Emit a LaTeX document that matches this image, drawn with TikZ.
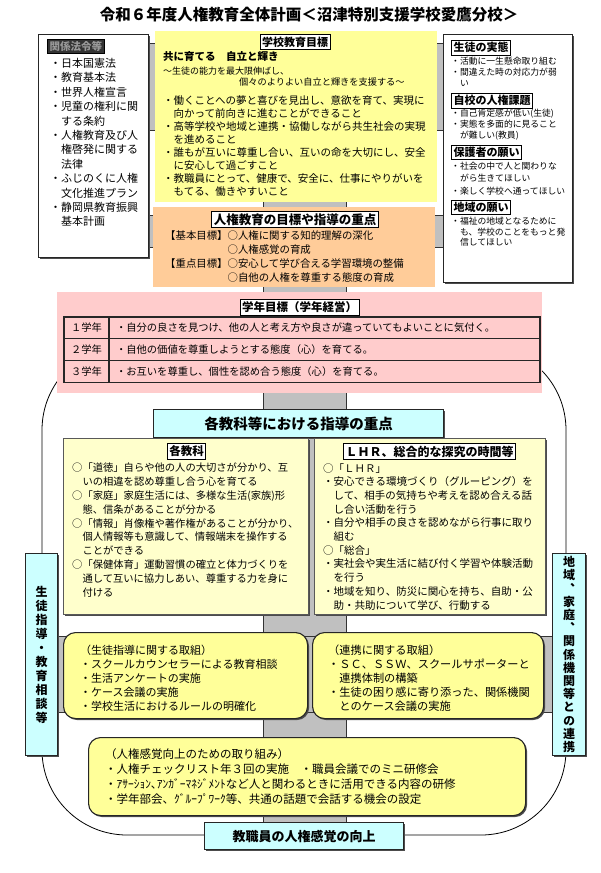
\documentclass[tikz,border=0pt]{standalone}
\usepackage{fontspec}
\setmainfont{Noto Sans CJK JP}
\newfontfamily\vjp[RawFeature=+vert]{Noto Sans CJK JP}
\usetikzlibrary{positioning,shadows}

\definecolor{goalyellow}{HTML}{FFFF99}
\definecolor{paleyellow}{HTML}{FFFFCC}
\definecolor{focusorange}{HTML}{FFCC99}
\definecolor{gradepink}{HTML}{FFCCCC}
\definecolor{headcyan}{HTML}{CCFFFF}
\definecolor{bandgray}{HTML}{C0C0C0}

\newcommand{\fs}[2]{\fontsize{#1}{#2}\selectfont}

\begin{document}
\begin{tikzpicture}[
x=1pt, y=-1pt,
every node/.style={inner sep=0pt},
panel/.style={
draw=black!85,
line width=1.1pt,
fill=white,
anchor=north west,
drop shadow={shadow xshift=1.5pt, shadow yshift=-1.5pt, fill=black!70, opacity=1}
},
flat/.style={anchor=north west},
tag/.style={draw=black, line width=1pt, fill=white, inner sep=2pt, font=\bfseries\fs{11}{13}},
body/.style={anchor=north west, align=left},
rbox/.style={panel, rounded corners=12pt, fill=goalyellow},
cyanbox/.style={panel, fill=headcyan},
colbox/.style={panel, draw=black!65, fill=paleyellow},
cell/.style={draw=black!85, line width=1.2pt, outer sep=0pt, minimum height=21.7pt, anchor=north west, font=\fs{10.3}{12}},
band/.style={fill=bandgray, draw=black!80, line width=0.8pt}
]
\useasboundingbox (0,0) rectangle (600,873);

% Outer ring
\draw[line width=0.8pt, rounded corners=85pt] (42,345) rectangle (566,835);

% Gray bands
\draw[band] (148,43) rectangle (443,130);
\draw[band] (148,215) rectangle (443,247);
\draw[band] (263,130) rectangle (346,822);
\draw[band] (57,636) rectangle (552,712);

% Title
\node[font=\bfseries\fs{15.5}{17}] (title) at (309,15) {令和６年度人権教育全体計画＜沼津特別支援学校愛鷹分校＞};

% Laws
\node[panel, minimum width=110pt, minimum height=223pt] (laws) at (38,34) {};
\node[tag, anchor=north west, fill=black!80, text=black!40, font=\bfseries\fs{10.5}{12}] (lawstag) at (47,39) {関係法令等};
\node[body, font=\fs{11}{14.4}] (lawslist) at (50,58)
{・日本国憲法\\・教育基本法\\・世界人権宣言\\・児童の権利に関\\　する条約\\・人権教育及び人\\　権啓発に関する\\　法律\\・ふじのくに人権\\　文化推進プラン\\・静岡県教育振興\\　基本計画};

% School goal
\node[flat, fill=goalyellow, minimum width=282pt, minimum height=171pt] (goal) at (155,31) {};
\node[tag] (goaltag) at (295,42) {学校教育目標};
\node[body, font=\bfseries\fs{10.5}{12}] (goalmotto) at (163,51) {共に育てる　自立と輝き};
\node[body, font=\fs{9}{11}] (goalsub) at (163,67) {～生徒の能力を最大限伸ばし、};
\node[anchor=west, font=\fs{9.2}{11}] (goalsubb) at (239,82) {個々のよりよい自立と輝きを支援する～};
\node[body, font=\fs{10.5}{13.1}] (goallist) at (163,95)
{・働くことへの夢と喜びを見出し、意欲を育て、実現に\\　向かって前向きに進むことができること\\・高等学校や地域と連携・協働しながら共生社会の実現\\　を進めること\\・誰もが互いに尊重し合い、互いの命を大切にし、安全\\　に安心して過ごすこと\\・教職員にとって、健康で、安全に、仕事にやりがいを\\　もてる、働きやすいこと};

% Needs
\node[panel, minimum width=129pt, minimum height=248pt] (needs) at (443,34) {};
\node[tag, anchor=north west] (needstaga) at (451,40) {生徒の実態};
\node[body, font=\fs{8.8}{10.7}] (needsa) at (451,57) {・活動に一生懸命取り組む\\・間違えた時の対応力が弱\\　い};
\node[tag, anchor=north west] (needstagb) at (451,93) {自校の人権課題};
\node[body, font=\fs{8.8}{10.7}] (needsb) at (451,109) {・自己肯定感が低い(生徒)\\・実態を多面的に見ること\\　が難しい(教員)};
\node[tag, anchor=north west] (needstagc) at (451,145) {保護者の願い};
\node[body, font=\fs{8.8}{12.3}] (needsc) at (451,162) {・社会の中で人と関わりな\\　がら生きてほしい\\・楽しく学校へ通ってほしい};
\node[tag, anchor=north west] (needstagd) at (451,200) {地域の願い};
\node[body, font=\fs{8.8}{10.7}] (needsd) at (451,217) {・福祉の地域となるために\\　も、学校のことをもっと発\\　信してほしい};

% Human rights focus
\node[flat, fill=focusorange, minimum width=282pt, minimum height=80pt] (focus) at (153,207) {};
\node[tag, font=\bfseries\fs{12.5}{14}] (focustag) at (295,219.5) {人権教育の目標や指導の重点};
\node[body, font=\fs{10.4}{14.3}] (focuslist) at (165,230)
{【基本目標】○人権に関する知的理解の深化\\　　　　　　○人権感覚の育成\\【重点目標】○安心して学び合える学習環境の整備\\　　　　　　○自他の人権を尊重する態度の育成};

% Grade goals
\node[flat, fill=gradepink, minimum width=485pt, minimum height=101pt] (grade) at (57,292) {};
\node[tag, font=\bfseries\fs{11.5}{13}] (gradetag) at (299.5,307.5) {学年目標（学年経営）};
\node[cell, minimum width=45pt] (yeara) at (64,317) {１学年};
\node[cell, minimum width=431pt, text width=417pt, inner xsep=7pt, align=left, right=0pt of yeara] (aima)
{・自分の良さを見つけ、他の人と考え方や良さが違っていてもよいことに気付く。};
\node[cell, minimum width=45pt, below=0pt of yeara] (yearb) {２学年};
\node[cell, minimum width=431pt, text width=417pt, inner xsep=7pt, align=left, right=0pt of yearb] (aimb)
{・自他の価値を尊重しようとする態度（心）を育てる。};
\node[cell, minimum width=45pt, below=0pt of yearb] (yearc) {３学年};
\node[cell, minimum width=431pt, text width=417pt, inner xsep=7pt, align=left, right=0pt of yearc] (aimc)
{・お互いを尊重し、個性を認め合う態度（心）を育てる。};

% Subject header
\node[cyanbox, minimum width=290pt, minimum height=28pt, font=\bfseries\fs{14.5}{16}] (subjhead) at (153,409) {各教科等における指導の重点};

% Subjects
\node[colbox, minimum width=245pt, minimum height=176pt] (subjects) at (63,438) {};
\node[tag, font=\bfseries\fs{11.5}{13}] (subjtag) at (186.5,451.5) {各教科};
\node[body, font=\fs{10.3}{13.8}] (subjlist) at (72,463)
{○「道徳」自らや他の人の大切さが分かり、互\\　いの相違を認め尊重し合う心を育てる\\○「家庭」家庭生活には、多様な生活(家族)形\\　態、信条があることが分かる\\○「情報」肖像権や著作権があることが分かり、\\　個人情報等も意識して、情報端末を操作する\\　ことができる\\○「保健体育」運動習慣の確立と体力づくりを\\　通して互いに協力しあい、尊重する力を身に\\　付ける};

% LHR
\node[colbox, minimum width=231pt, minimum height=176pt] (lhr) at (314,438) {};
\node[tag, font=\bfseries\fs{12}{14}] (lhrtag) at (429.5,451.5) {ＬＨＲ、総合的な探究の時間等};
\node[body, font=\fs{10.5}{13.7}] (lhrlist) at (323,463)
{○「ＬＨＲ」\\・安心できる環境づくり（グルーピング）を\\　して、相手の気持ちや考えを認め合える話\\　し合い活動を行う\\・自分や相手の良さを認めながら行事に取り\\　組む\\○「総合」\\・実社会や実生活に結び付く学習や体験活動\\　を行う\\・地域を知り、防災に関心を持ち、自助・公\\　助・共助について学び、行動する};

% Side strips
\node[cyanbox, minimum width=32pt, minimum height=202pt, align=center, font=\vjp\bfseries\fs{12}{14}] (guid) at (25,553)
{生\\徒\\指\\導\\・\\教\\育\\相\\談\\等};
\node[cyanbox, minimum width=33pt, minimum height=202pt, align=center, font=\vjp\bfseries\fs{12}{13.2}] (link) at (552,553)
{地\\域\\、\\家\\庭\\、\\関\\係\\機\\関\\等\\と\\の\\連\\携};

% Guidance work
\node[rbox, minimum width=244pt, minimum height=86pt] (guidwork) at (63,632) {};
\node[body, font=\fs{11}{14}] (guidlist) at (80,645)
{（生徒指導に関する取組）\\・スクールカウンセラーによる教育相談\\・生活アンケートの実施\\・ケース会議の実施\\・学校生活におけるルールの明確化};

% Link work
\node[rbox, minimum width=231pt, minimum height=86pt] (linkwork) at (312,632) {};
\node[body, font=\fs{11.2}{14}] (linklist) at (328,645)
{（連携に関する取組）\\・ＳＣ、ＳＳＷ、スクールサポーターと\\　連携体制の構築\\・生徒の困り感に寄り添った、関係機関\\　とのケース会議の実施};

% Staff work
\node[rbox, minimum width=437pt, minimum height=78pt] (staffwork) at (88,737) {};
\node[body, font=\fs{11.5}{15}] (stafflist) at (105,748)
{（人権感覚向上のための取り組み）\\・人権チェックリスト年３回の実施　・職員会議でのミニ研修会\\・ｱｻｰｼｮﾝ､ｱﾝｶﾞｰﾏﾈｼﾞﾒﾝﾄなど人と関わるときに活用できる内容の研修\\・学年部会、ｸﾞﾙｰﾌﾟﾜｰｸ等、共通の話題で会話する機会の設定};

% Staff
\node[cyanbox, minimum width=199pt, minimum height=27pt, font=\bfseries\fs{13}{15}] (staff) at (204,822) {教職員の人権感覚の向上};

\end{tikzpicture}
\end{document}
